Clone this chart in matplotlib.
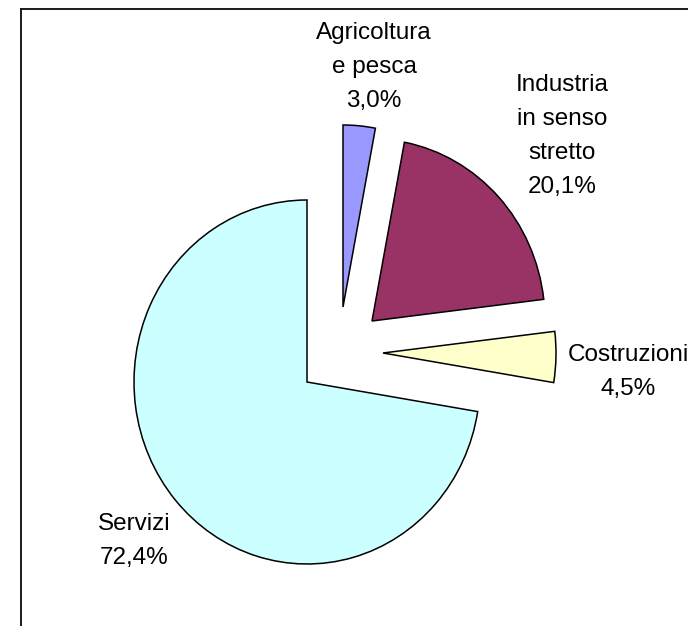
import matplotlib
matplotlib.use("Agg")
import matplotlib.pyplot as plt
from matplotlib.lines import Line2D

# ---- data ----
categories = ["Agricoltura\ne pesca", "Industria\nin senso\nstretto", "Costruzioni", "Servizi"]
values = [3.0, 20.1, 4.5, 72.4]
colors = ["#9999FF", "#993366", "#FFFFCC", "#CCFFFF"]

# ---- layout (pixels) ----
W, H = 688, 626
cx, cy = 307, 382          # pie centre in px
rx, ry = 173, 182          # ellipse radii in px
# per-slice vertex offsets (px, y downwards)
offsets = [(36, -75), (65, -61), (76, -29), (0, 0)]
# label centres (px)
label_pos = [(374, 67), (562, 136), (628, 372), (134, 541)]

plt.rcParams['font.family'] = ['Liberation Sans', 'DejaVu Sans']

fig = plt.figure(figsize=(W / 100, H / 100), dpi=100)
ax = fig.add_axes([0, 0, 1, 1])

wedges, _ = ax.pie(values, startangle=90, counterclock=False, radius=1,
                   colors=colors,
                   wedgeprops=dict(edgecolor="black", linewidth=1.1))
ax.set_aspect('auto')
ax.set_xlim(-cx / rx, (W - cx) / rx)
ax.set_ylim(-(H - cy) / ry, cy / ry)
ax.axis('off')

for w, (dx, dy) in zip(wedges, offsets):
    w.set_center((dx / rx, -dy / ry))

for name, v, (px, py) in zip(categories, values, label_pos):
    txt = f"{name}\n{v:.1f}%".replace('.', ',')
    fig.text(px / W, 1 - py / H, txt, ha='center', va='center',
             fontsize=17.5, linespacing=1.72, color='black')

# outer frame (partially visible)
fig.add_artist(Line2D([21 / W, 21 / W], [0, 1 - 9 / H], color='#1a1a1a', lw=1.4,
                      transform=fig.transFigure))
fig.add_artist(Line2D([21 / W, 1], [1 - 9 / H, 1 - 9 / H], color='#1a1a1a', lw=1.4,
                      transform=fig.transFigure))

fig.savefig("out.png", dpi=100)
